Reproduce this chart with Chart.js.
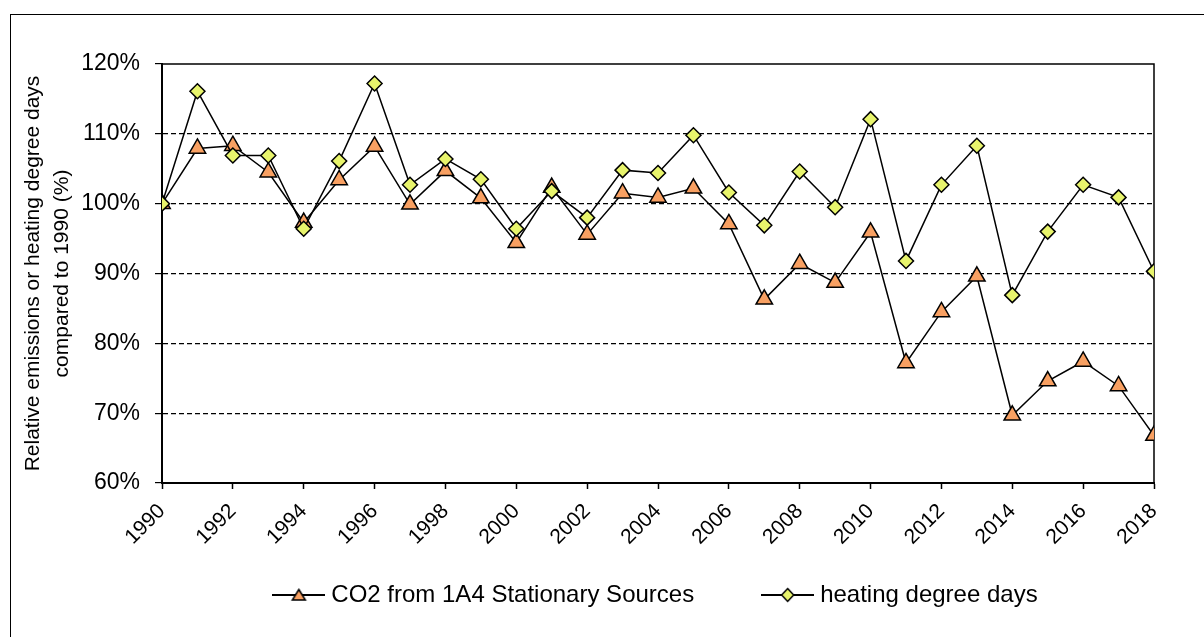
<!DOCTYPE html>
<html>
<head>
<meta charset="utf-8">
<title>CO2 1A4 stationary vs heating degree days</title>
<script src="https://cdn.jsdelivr.net/npm/chart.js@4.4.1/dist/chart.umd.min.js"></script>
<style>
  html, body { margin: 0; padding: 0; background: #fff; overflow: hidden; }
  #wrap { position: relative; width: 1204px; height: 637px; }
  #frame { position: absolute; left: 10px; top: 14px; width: 1300px; height: 700px; border-left: 1px solid #000; border-top: 1px solid #000; }
  #lineChart { position: absolute; left: 0; top: 0; }
</style>
</head>
<body>
<div id="wrap">
  <div id="frame"></div>
  <canvas id="lineChart" width="1204" height="637"></canvas>
</div>
<script>
// data (relative to 1990 = 100 %)
const years = [1990, 1991, 1992, 1993, 1994, 1995, 1996, 1997, 1998, 1999,
               2000, 2001, 2002, 2003, 2004, 2005, 2006, 2007, 2008, 2009,
               2010, 2011, 2012, 2013, 2014, 2015, 2016, 2017, 2018];
const co2Values = [100, 107.9, 108.3, 104.5, 97.3, 103.4, 108.2, 99.9, 104.7, 100.8,
                   94.4, 102.3, 95.6, 101.5, 100.9, 102.2, 97.1, 86.3, 91.4, 88.7,
                   95.9, 77.2, 84.5, 89.6, 69.7, 74.6, 77.4, 73.9, 66.8];
const hddValues = [100, 116.1, 106.9, 106.9, 96.4, 106.1, 117.2, 102.7, 106.4, 103.5,
                   96.4, 101.8, 98.0, 104.8, 104.4, 109.8, 101.6, 96.9, 104.6, 99.5,
                   112.1, 91.8, 102.7, 108.3, 86.9, 96.0, 102.7, 100.9, 90.3];
const seriesNames = ['CO2 from 1A4 Stationary Sources', 'heating degree days'];
const axisTitle = ['Relative emissions or heating degree days', 'compared to 1990 (%)'];
const yRange = [60, 120];
const xRange = [1990, 2018];

const co2Colour = '#F8A062';
const hddColour = '#E8F46C';

Chart.defaults.font.family = '"Liberation Sans", Arial, sans-serif';
Chart.defaults.color = '#000';

// small line + marker pictures for the legend (like the excel legend keys)
function legendIcon (style, fill) {
  const c = document.createElement('canvas');
  c.width = 53;
  c.height = 20;
  const g = c.getContext('2d');
  g.strokeStyle = '#000';
  g.lineWidth = 2;
  g.beginPath();
  g.moveTo(0, 10);
  g.lineTo(53, 10);
  g.stroke();
  g.fillStyle = fill;
  g.lineWidth = 1.5;
  g.beginPath();
  if (style === 'triangle') {
    g.moveTo(26.5, 4.5);
    g.lineTo(33, 15);
    g.lineTo(20, 15);
  } else {
    g.moveTo(26.5, 3.5);
    g.lineTo(32.5, 10);
    g.lineTo(26.5, 16.5);
    g.lineTo(20.5, 10);
  }
  g.closePath();
  g.fill();
  g.stroke();
  return c;
}

// top and right border of the plot area
const plotFrame = {
  id: 'plotFrame',
  afterLayout (chart) {
    // x axis box is kept short so the legend sits close, let its labels run below it
    chart.scales.x.bottom = chart.height;
  },
  beforeDatasetsDraw (chart) {
    const { ctx, chartArea } = chart;
    ctx.save();
    ctx.strokeStyle = '#000';
    ctx.lineWidth = 1.5;
    ctx.beginPath();
    ctx.moveTo(chartArea.left, chartArea.top);
    ctx.lineTo(chartArea.right, chartArea.top);
    ctx.lineTo(chartArea.right, chartArea.bottom);
    ctx.stroke();
    ctx.restore();
  }
};

const ctx = document.getElementById('lineChart').getContext('2d');

window.myLineChart = new Chart(ctx, {
  type: 'line',
  data: {
    datasets: [
      {
        label: seriesNames[0],
        data: years.map((y, i) => ({ x: y, y: co2Values[i] })),
        borderColor: '#000',
        borderWidth: 1.5,
        fill: false,
        pointStyle: 'triangle',
        pointRadius: 9.5,
        pointBackgroundColor: co2Colour,
        pointBorderColor: '#000',
        pointBorderWidth: 1.5,
        order: 1,
      },
      {
        label: seriesNames[1],
        data: years.map((y, i) => ({ x: y, y: hddValues[i] })),
        borderColor: '#000',
        borderWidth: 1.5,
        fill: false,
        pointStyle: 'rectRot',
        pointRadius: 7.5,
        pointBackgroundColor: hddColour,
        pointBorderColor: '#000',
        pointBorderWidth: 1.5,
        order: 0,
      },
    ],
  },
  options: {
    responsive: false,
    animation: false,
    layout: { padding: { left: 0, top: 64, right: 50, bottom: 20 } },
    elements: { line: { tension: 0 } },
    scales: {
      x: {
        type: 'linear',
        min: xRange[0],
        max: xRange[1],
        afterFit: (s) => { s.height = 27; },
        border: { color: '#000', width: 2 },
        grid: { drawOnChartArea: false, tickLength: 6, tickColor: '#000', tickWidth: 1.5 },
        ticks: {
          stepSize: 2,
          autoSkip: false,
          minRotation: 45,
          maxRotation: 45,
          padding: 10,
          color: '#000',
          font: { size: 21 },
          callback: (v) => String(v),
        },
      },
      y: {
        min: yRange[0],
        max: yRange[1],
        afterFit: (s) => { s.width = 162; },
        border: { color: '#000', width: 2, dash: [5, 3] },
        grid: {
          color: (c) => (c.tick && (c.tick.value === yRange[0] || c.tick.value === yRange[1])) ? 'rgba(0,0,0,0)' : '#000',
          tickColor: '#000',
          tickLength: 7,
          lineWidth: 1.2,
        },
        ticks: {
          stepSize: 10,
          padding: 15,
          color: '#000',
          font: { size: 23 },
          callback: (v) => v + '%',
        },
        title: {
          display: true,
          text: axisTitle,
          color: '#000',
          font: { size: 21, lineHeight: 1.38 },
          padding: { top: 19, bottom: 0 },
        },
      },
    },
    plugins: {
      tooltip: { enabled: false },
      legend: {
        position: 'bottom',
        fullSize: false,
        onClick: null,
        labels: {
          usePointStyle: true,
          pointStyleWidth: 41,
          padding: 73,
          color: '#000',
          font: { size: 24 },
          generateLabels: () => [
            { text: seriesNames[0], pointStyle: legendIcon('triangle', co2Colour), fillStyle: co2Colour, strokeStyle: '#000', lineWidth: 0, hidden: false, datasetIndex: 0, fontColor: '#000' },
            { text: seriesNames[1], pointStyle: legendIcon('diamond', hddColour), fillStyle: hddColour, strokeStyle: '#000', lineWidth: 0, hidden: false, datasetIndex: 1, fontColor: '#000' },
          ],
        },
      },
    },
  },
  plugins: [plotFrame],
});
</script>
</body>
</html>
